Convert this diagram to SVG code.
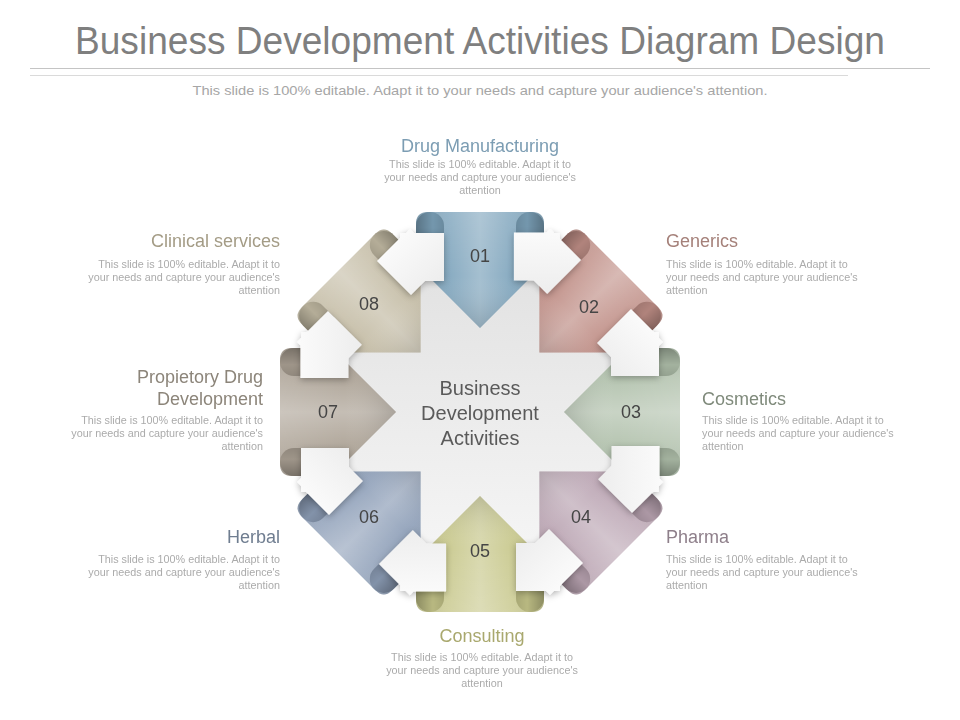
<svg xmlns="http://www.w3.org/2000/svg" xmlns:xlink="http://www.w3.org/1999/xlink" width="960" height="720" viewBox="0 0 960 720">
<style>
text{font-family:"Liberation Sans",Arial,sans-serif}
.title{font-size:38px;fill:#7f7f7f;text-anchor:middle}
.sub{font-size:13.5px;fill:#a6a6a6;text-anchor:middle}
.lbl{font-size:18px}
.body{font-size:10.8px;fill:#ababab}
.num{font-size:18px;fill:#454545;text-anchor:middle}
.ctr{font-size:20px;fill:#5a5a5a;text-anchor:middle}
.mid{text-anchor:middle}.end{text-anchor:end}.start{text-anchor:start}
</style>
<defs>
<path id="body" d="M-64,-188 Q-64,-200 -52,-200 H52 Q64,-200 64,-188 V-132 H48 L0,-84 L-48,-132 H-64 Z"/>
<path id="curlL" d="M-64,-170 V-186 A14,14 0 0 1 -36,-186 V-170 Z"/>
<path id="curlR" d="M36,-170 V-186 A14,14 0 0 1 64,-186 V-170 Z"/>
<polygon id="tab" points="-103,-151 -80,-174 -80,-179 -74,-179 -70,-183 -66,-179 -36,-179 -36,-131 -55,-131 -69,-117"/>
<linearGradient id="sheen" x1="0" y1="0" x2="1" y2="0">
<stop offset="0" stop-color="#000" stop-opacity="0.16"/>
<stop offset="0.25" stop-color="#fff" stop-opacity="0.08"/>
<stop offset="0.5" stop-color="#fff" stop-opacity="0.3"/>
<stop offset="0.75" stop-color="#fff" stop-opacity="0.08"/>
<stop offset="1" stop-color="#000" stop-opacity="0.16"/>
</linearGradient>
<linearGradient id="shade" x1="0" y1="0" x2="0" y2="1">
<stop offset="0" stop-color="#fff" stop-opacity="0.12"/>
<stop offset="0.55" stop-color="#fff" stop-opacity="0"/>
<stop offset="1" stop-color="#000" stop-opacity="0.14"/>
</linearGradient>
<linearGradient id="curlGL" x1="0" y1="0" x2="1" y2="0">
<stop offset="0" stop-color="#000" stop-opacity="0.3"/>
<stop offset="0.6" stop-color="#000" stop-opacity="0.08"/>
<stop offset="1" stop-color="#000" stop-opacity="0.16"/>
</linearGradient>
<linearGradient id="curlGR" x1="1" y1="0" x2="0" y2="0">
<stop offset="0" stop-color="#000" stop-opacity="0.3"/>
<stop offset="0.6" stop-color="#000" stop-opacity="0.08"/>
<stop offset="1" stop-color="#000" stop-opacity="0.16"/>
</linearGradient>
<linearGradient id="tabG" x1="0" y1="0" x2="1" y2="1">
<stop offset="0" stop-color="#ffffff"/>
<stop offset="1" stop-color="#ebebeb"/>
</linearGradient>
<linearGradient id="baseG" x1="0" y1="0" x2="0" y2="1">
<stop offset="0" stop-color="#e2e2e2"/>
<stop offset="1" stop-color="#f5f5f5"/>
</linearGradient>
<filter id="sh" x="-20%" y="-20%" width="140%" height="140%">
<feDropShadow dx="0" dy="2" stdDeviation="3" flood-color="#000" flood-opacity="0.28"/>
</filter>
</defs>

<rect width="960" height="720" fill="#ffffff"/>

<g id="header">
<text class="title" x="480" y="54" textLength="810" lengthAdjust="spacingAndGlyphs">Business Development Activities Diagram Design</text>
<line x1="30" y1="68.5" x2="930" y2="68.5" stroke="#c4c4c4" stroke-width="1"/>
<line x1="30" y1="75.5" x2="848" y2="75.5" stroke="#dadada" stroke-width="1"/>
<text class="sub" x="480" y="95" textLength="575" lengthAdjust="spacingAndGlyphs">This slide is 100% editable. Adapt it to your needs and capture your audience's attention.</text>
</g>

<g id="base">
<circle cx="480" cy="412" r="142" fill="url(#baseG)"/>
</g>

<g id="ribbons">
<g id="arrow-01" transform="translate(480,412) rotate(0)">
<use href="#body" xlink:href="#body" fill="#7ea4bc"/><use href="#body" xlink:href="#body" fill="url(#sheen)"/><use href="#body" xlink:href="#body" fill="url(#shade)"/>
<use href="#curlL" xlink:href="#curlL" fill="#7ea4bc"/><use href="#curlL" xlink:href="#curlL" fill="url(#curlGL)"/>
<use href="#curlR" xlink:href="#curlR" fill="#7ea4bc"/><use href="#curlR" xlink:href="#curlR" fill="url(#curlGR)"/>
</g>
<g id="arrow-02" transform="translate(480,412) rotate(45)">
<use href="#body" xlink:href="#body" fill="#c08f87"/><use href="#body" xlink:href="#body" fill="url(#sheen)"/><use href="#body" xlink:href="#body" fill="url(#shade)"/>
<use href="#curlL" xlink:href="#curlL" fill="#c08f87"/><use href="#curlL" xlink:href="#curlL" fill="url(#curlGL)"/>
<use href="#curlR" xlink:href="#curlR" fill="#c08f87"/><use href="#curlR" xlink:href="#curlR" fill="url(#curlGR)"/>
</g>
<g id="arrow-03" transform="translate(480,412) rotate(90)">
<use href="#body" xlink:href="#body" fill="#b1c1ac"/><use href="#body" xlink:href="#body" fill="url(#sheen)"/><use href="#body" xlink:href="#body" fill="url(#shade)"/>
<use href="#curlL" xlink:href="#curlL" fill="#b1c1ac"/><use href="#curlL" xlink:href="#curlL" fill="url(#curlGL)"/>
<use href="#curlR" xlink:href="#curlR" fill="#b1c1ac"/><use href="#curlR" xlink:href="#curlR" fill="url(#curlGR)"/>
</g>
<g id="arrow-04" transform="translate(480,412) rotate(135)">
<use href="#body" xlink:href="#body" fill="#bba5b3"/><use href="#body" xlink:href="#body" fill="url(#sheen)"/><use href="#body" xlink:href="#body" fill="url(#shade)"/>
<use href="#curlL" xlink:href="#curlL" fill="#bba5b3"/><use href="#curlL" xlink:href="#curlL" fill="url(#curlGL)"/>
<use href="#curlR" xlink:href="#curlR" fill="#bba5b3"/><use href="#curlR" xlink:href="#curlR" fill="url(#curlGR)"/>
</g>
<g id="arrow-05" transform="translate(480,412) rotate(180)">
<use href="#body" xlink:href="#body" fill="#c8c88c"/><use href="#body" xlink:href="#body" fill="url(#sheen)"/><use href="#body" xlink:href="#body" fill="url(#shade)"/>
<use href="#curlL" xlink:href="#curlL" fill="#c8c88c"/><use href="#curlL" xlink:href="#curlL" fill="url(#curlGL)"/>
<use href="#curlR" xlink:href="#curlR" fill="#c8c88c"/><use href="#curlR" xlink:href="#curlR" fill="url(#curlGR)"/>
</g>
<g id="arrow-06" transform="translate(480,412) rotate(225)">
<use href="#body" xlink:href="#body" fill="#8e9fb8"/><use href="#body" xlink:href="#body" fill="url(#sheen)"/><use href="#body" xlink:href="#body" fill="url(#shade)"/>
<use href="#curlL" xlink:href="#curlL" fill="#8e9fb8"/><use href="#curlL" xlink:href="#curlL" fill="url(#curlGL)"/>
<use href="#curlR" xlink:href="#curlR" fill="#8e9fb8"/><use href="#curlR" xlink:href="#curlR" fill="url(#curlGR)"/>
</g>
<g id="arrow-07" transform="translate(480,412) rotate(270)">
<use href="#body" xlink:href="#body" fill="#aca295"/><use href="#body" xlink:href="#body" fill="url(#sheen)"/><use href="#body" xlink:href="#body" fill="url(#shade)"/>
<use href="#curlL" xlink:href="#curlL" fill="#aca295"/><use href="#curlL" xlink:href="#curlL" fill="url(#curlGL)"/>
<use href="#curlR" xlink:href="#curlR" fill="#aca295"/><use href="#curlR" xlink:href="#curlR" fill="url(#curlGR)"/>
</g>
<g id="arrow-08" transform="translate(480,412) rotate(315)">
<use href="#body" xlink:href="#body" fill="#c4bca5"/><use href="#body" xlink:href="#body" fill="url(#sheen)"/><use href="#body" xlink:href="#body" fill="url(#shade)"/>
<use href="#curlL" xlink:href="#curlL" fill="#c4bca5"/><use href="#curlL" xlink:href="#curlL" fill="url(#curlGL)"/>
<use href="#curlR" xlink:href="#curlR" fill="#c4bca5"/><use href="#curlR" xlink:href="#curlR" fill="url(#curlGR)"/>
</g>
</g>

<g id="frame" filter="url(#sh)" fill="url(#tabG)">
<use href="#tab" xlink:href="#tab" transform="translate(480,412) rotate(0)"/>
<use href="#tab" xlink:href="#tab" transform="translate(480,412) rotate(45)"/>
<use href="#tab" xlink:href="#tab" transform="translate(480,412) rotate(90)"/>
<use href="#tab" xlink:href="#tab" transform="translate(480,412) rotate(135)"/>
<use href="#tab" xlink:href="#tab" transform="translate(480,412) rotate(180)"/>
<use href="#tab" xlink:href="#tab" transform="translate(480,412) rotate(225)"/>
<use href="#tab" xlink:href="#tab" transform="translate(480,412) rotate(270)"/>
<use href="#tab" xlink:href="#tab" transform="translate(480,412) rotate(315)"/>
</g>

<g id="center">
<text class="ctr" x="480" y="395">Business</text>
<text class="ctr" x="480" y="420">Development</text>
<text class="ctr" x="480" y="445">Activities</text>
</g>

<g id="node-01">
<text class="num" x="480" y="262">01</text>
<text class="lbl mid" x="480" y="152" fill="#7c9db3">Drug Manufacturing</text>
<text class="body mid"><tspan x="480" y="168">This slide is 100% editable.  Adapt it to</tspan><tspan x="480" y="181">your needs and capture your audience's</tspan><tspan x="480" y="194">attention</tspan></text>
</g>
<g id="node-02">
<text class="num" x="589" y="313">02</text>
<text class="lbl start" x="666" y="247" fill="#a5817a">Generics</text>
<text class="body start"><tspan x="666" y="268">This slide is 100% editable.  Adapt it to</tspan><tspan x="666" y="281">your needs and capture your audience's</tspan><tspan x="666" y="294">attention</tspan></text>
</g>
<g id="node-03">
<text class="num" x="631" y="418">03</text>
<text class="lbl start" x="702" y="405" fill="#7f8a7b">Cosmetics</text>
<text class="body start"><tspan x="702" y="424">This slide is 100% editable.  Adapt it to</tspan><tspan x="702" y="437">your needs and capture your audience's</tspan><tspan x="702" y="450">attention</tspan></text>
</g>
<g id="node-04">
<text class="num" x="581" y="523">04</text>
<text class="lbl start" x="666" y="543" fill="#8e7f8a">Pharma</text>
<text class="body start"><tspan x="666" y="563">This slide is 100% editable.  Adapt it to</tspan><tspan x="666" y="576">your needs and capture your audience's</tspan><tspan x="666" y="589">attention</tspan></text>
</g>
<g id="node-05">
<text class="num" x="480" y="557">05</text>
<text class="lbl mid" x="482" y="642" fill="#a9a86e">Consulting</text>
<text class="body mid"><tspan x="482" y="661">This slide is 100% editable.  Adapt it to</tspan><tspan x="482" y="674">your needs and capture your audience's</tspan><tspan x="482" y="687">attention</tspan></text>
</g>
<g id="node-06">
<text class="num" x="369" y="523">06</text>
<text class="lbl end" x="280" y="543" fill="#6f7d90">Herbal</text>
<text class="body end"><tspan x="280" y="563">This slide is 100% editable.  Adapt it to</tspan><tspan x="280" y="576">your needs and capture your audience's</tspan><tspan x="280" y="589">attention</tspan></text>
</g>
<g id="node-07">
<text class="num" x="328" y="418">07</text>
<text class="lbl end" x="263" y="383" fill="#8c857a">Propietory Drug</text>
<text class="lbl end" x="263" y="405" fill="#8c857a">Development</text>
<text class="body end"><tspan x="263" y="424">This slide is 100% editable.  Adapt it to</tspan><tspan x="263" y="437">your needs and capture your audience's</tspan><tspan x="263" y="450">attention</tspan></text>
</g>
<g id="node-08">
<text class="num" x="369" y="310">08</text>
<text class="lbl end" x="280" y="247" fill="#a49c86">Clinical services</text>
<text class="body end"><tspan x="280" y="268">This slide is 100% editable.  Adapt it to</tspan><tspan x="280" y="281">your needs and capture your audience's</tspan><tspan x="280" y="294">attention</tspan></text>
</g>
</svg>
